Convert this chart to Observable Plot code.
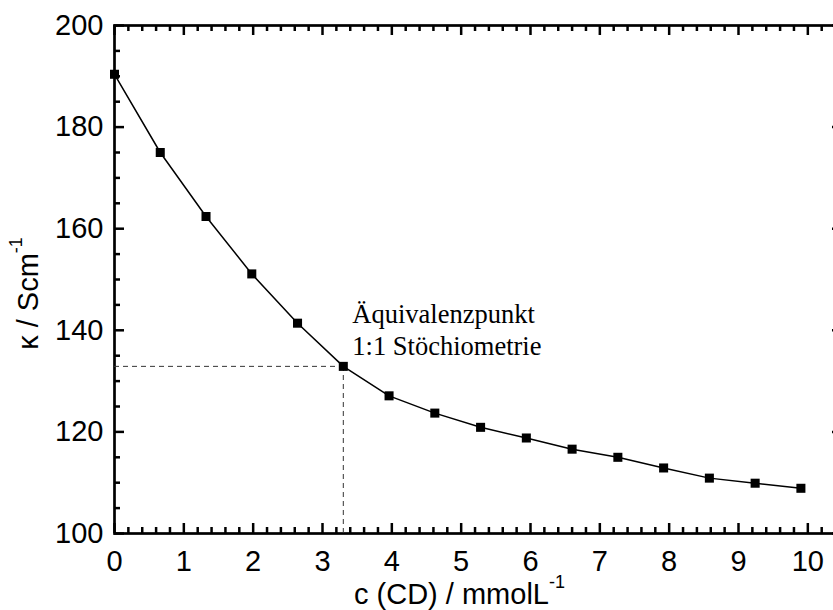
<!DOCTYPE html>
<html>
<head>
<meta charset="utf-8">
<script src="https://cdn.jsdelivr.net/npm/d3@7"></script>
<script src="https://cdn.jsdelivr.net/npm/@observablehq/plot@0.6"></script>
<style>
  body { margin: 0; background: #fff; }
  #chart svg { display: block; }
</style>
</head>
<body>
<div id="chart"></div>
<script>
// ---- data ----
const concentration = [0, 0.66, 1.32, 1.98, 2.64, 3.3, 3.96, 4.62, 5.28, 5.94, 6.6, 7.26, 7.92, 8.58, 9.24, 9.9];
const conductivity  = [190.4, 175.0, 162.4, 151.1, 141.4, 132.9, 127.1, 123.7, 120.9, 118.8, 116.6, 115.0, 112.9, 110.9, 109.9, 108.9];
const equivalenceX = 3.3;
const equivalenceY = 132.9;
const xDomain = [0, 10.5];
const yDomain = [100, 200];
const xTickLabels = [0, 1, 2, 3, 4, 5, 6, 7, 8, 9, 10];
const yTickLabels = [100, 120, 140, 160, 180, 200];
const xMinorTicks = d3.range(53).map(i => i / 5).filter((v, i) => i % 5 !== 0);
const yMinorTicks = d3.range(100, 201, 5).filter(v => v % 20 !== 0);
const annotation = "Äquivalenzpunkt\n1:1 Stöchiometrie";
const xTitle = "c (CD) / mmolL";
const yTitle = "κ / Scm";
const titleSup = "-1";

const data = concentration.map((c, i) => ({c, k: conductivity[i]}));

const W = 833, H = 610;
const mL = 114, mR = -9, mT = 25, mB = 77;
const frameW = W - mL - mR;
const frameH = H - mT - mB;
const majorLen = 10, minorLen = 6;

const tickStyle = {stroke: "#000", strokeWidth: 2.5};
const sans = "'Liberation Sans', Arial, Helvetica, sans-serif";

// inward tick marks on all four sides (pixel lengths via insets)
function xTicks(values, len) {
  return [
    Plot.ruleX(values, {insetTop: frameH - len, ...tickStyle}),
    Plot.ruleX(values, {insetBottom: frameH - len, ...tickStyle})
  ];
}
function yTicks(values, len) {
  return [
    Plot.ruleY(values, {insetRight: frameW - len, ...tickStyle}),
    Plot.ruleY(values, {insetLeft: frameW - len, ...tickStyle})
  ];
}

const chart = Plot.plot({
  width: W,
  height: H,
  marginLeft: mL,
  marginRight: mR,
  marginTop: mT,
  marginBottom: mB,
  style: {fontFamily: sans, color: "#000"},
  x: {domain: xDomain},
  y: {domain: yDomain},
  marks: [
    Plot.frame({stroke: "#000", fill: "none", strokeWidth: 2.7}),
    ...xTicks(xTickLabels, majorLen),
    ...xTicks(xMinorTicks, minorLen),
    ...yTicks(yTickLabels, majorLen),
    ...yTicks(yMinorTicks, minorLen),
    Plot.axisX({ticks: xTickLabels, tickSize: 0, tickPadding: 17, fontSize: 29, label: null, tickFormat: d => String(d)}),
    Plot.axisY({ticks: yTickLabels, tickSize: 0, tickPadding: 11, fontSize: 29, label: null, tickFormat: d => String(d)}),
    // equivalence point guide lines
    Plot.ruleY([equivalenceY], {x1: xDomain[0], x2: equivalenceX, stroke: "#333", strokeWidth: 1, strokeDasharray: "5,4"}),
    Plot.ruleX([equivalenceX], {y1: yDomain[0], y2: equivalenceY, stroke: "#333", strokeWidth: 1, strokeDasharray: "5,4"}),
    // series
    Plot.line(data, {x: "c", y: "k", stroke: "#000", strokeWidth: 1.5}),
    Plot.dot(data, {x: "c", y: "k", symbol: "square", r: 5.1, fill: "#000", stroke: "none"}),
    // annotation
    Plot.text([annotation], {x: equivalenceX, y: equivalenceY, textAnchor: "start", lineAnchor: "bottom",
      dx: 9, dy: -11, fontFamily: "'Liberation Serif', 'Times New Roman', serif", fontSize: 26.5, lineHeight: 1.21, fill: "#000"}),
    // axis titles
    Plot.text([xTitle], {frameAnchor: "bottom", textAnchor: "middle", lineAnchor: "bottom", dx: -19, dy: 70, fontSize: 29, fill: "#000"}),
    Plot.text([yTitle], {frameAnchor: "left", rotate: -90, textAnchor: "middle", lineAnchor: "bottom", dx: -77, dy: 14, fontSize: 29, fill: "#000"})
  ]
});

// superscripts on axis titles
chart.querySelectorAll("text").forEach(t => {
  if (t.textContent === xTitle || t.textContent === yTitle) {
    const sup = document.createElementNS("http://www.w3.org/2000/svg", "tspan");
    sup.setAttribute("dy", "-16");
    sup.setAttribute("font-size", "18");
    sup.textContent = titleSup;
    t.appendChild(sup);
  }
});

document.getElementById("chart").appendChild(chart);
</script>
</body>
</html>
